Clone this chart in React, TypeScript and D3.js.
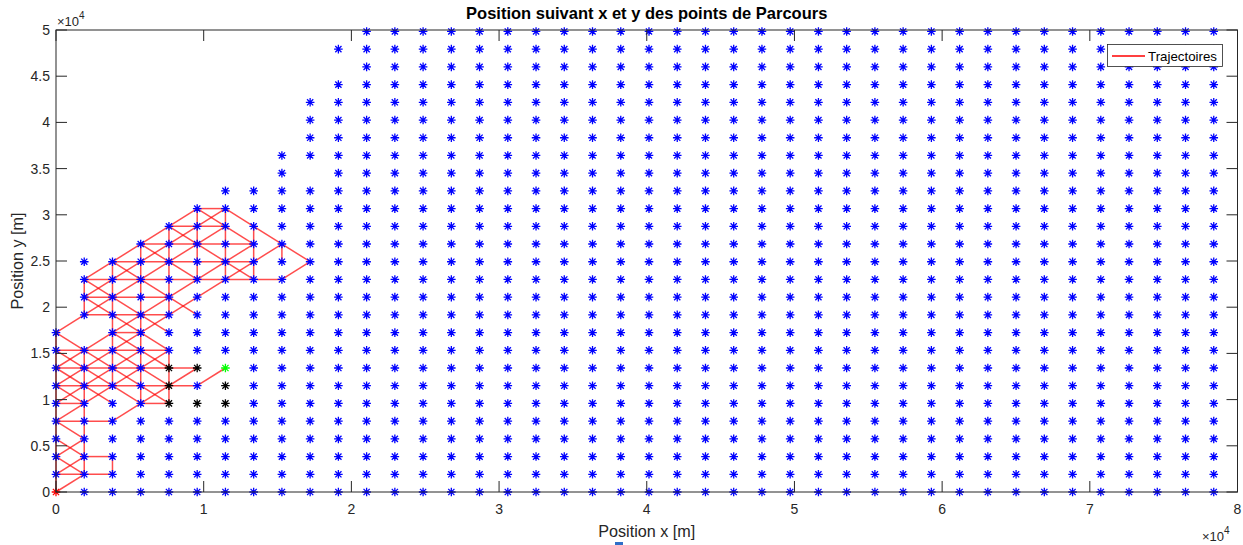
import React from "react";
import * as d3 from "d3";

// Grid positions (m)
const COL_X = [0, 1912, 3824, 5736, 7648, 9560, 11472, 13384, 15296, 17208, 19120, 21032, 22944, 24856, 26768, 28680, 30592, 32504, 34416, 36328, 38240, 40152, 42064, 43976, 45888, 47800, 49712, 51624, 53536, 55448, 57360, 59272, 61184, 63096, 65008, 66920, 68832, 70744, 72656, 74568, 76480, 78392];
const ROW_Y = [0, 1917, 3834, 5751, 7668, 9585, 11502, 13419, 15336, 17253, 19170, 21087, 23004, 24921, 26838, 28755, 30672, 32589, 34506, 36423, 38340, 40257, 42174, 44091, 46008, 47925, 49842];
// Highest row index present in each column
const COL_TOP = [9, 13, 13, 14, 15, 16, 17, 17, 19, 22, 25, 26, 26, 26, 26, 26, 26, 26, 26, 26, 26, 26, 26, 26, 26, 26, 26, 26, 26, 26, 26, 26, 26, 26, 26, 26, 26, 26, 26, 26, 26, 26];
const MISSING: [number, number][] = [[1, 9], [9, 18], [10, 24]];
const BLACK_PTS: [number, number][] = [[4, 7], [5, 7], [4, 6], [4, 5], [5, 5], [6, 6], [6, 5]];
const GREEN_PTS: [number, number][] = [[6, 7]];
const RED_PTS: [number, number][] = [[0, 0]];

// Trajectory segments (column index, row index)
const TRAJ: [number, number][][] = [
  [[0, 0], [0, 9]], [[0, 0], [1, 1]], [[0, 1], [2, 1]], [[1, 2], [2, 2]], [[2, 1], [2, 2]],
  [[1, 1], [1, 8]], [[0, 1], [1, 2]], [[0, 2], [1, 1]], [[0, 2], [1, 3]], [[0, 3], [1, 2]],
  [[0, 4], [1, 3]], [[0, 4], [2, 4]], [[2, 4], [3, 5]], [[0, 5], [1, 5]], [[3, 5], [4, 5]],
  [[0, 6], [5, 6]], [[0, 7], [5, 7]], [[0, 8], [4, 8]], [[2, 6], [2, 13]], [[3, 5], [3, 14]],
  [[4, 5], [4, 8]], [[0, 4], [4, 8]], [[0, 5], [3, 8]], [[0, 6], [2, 8]], [[0, 7], [1, 8]],
  [[3, 5], [5, 7]], [[0, 8], [3, 5]], [[0, 7], [2, 5]], [[0, 6], [1, 5]], [[1, 8], [4, 5]],
  [[2, 8], [4, 6]], [[3, 8], [4, 7]], [[5, 6], [6, 7]], [[0, 9], [1, 10]], [[0, 9], [1, 8]],
  [[1, 8], [2, 9]], [[2, 8], [3, 9]], [[2, 9], [3, 8]], [[3, 9], [4, 8]], [[2, 9], [3, 9]],
  [[1, 11], [3, 9]], [[1, 12], [4, 9]], [[2, 9], [7, 14]], [[3, 9], [8, 14]], [[1, 10], [4, 10]],
  [[1, 11], [4, 11]], [[1, 12], [8, 12]], [[2, 13], [7, 13]], [[3, 14], [7, 14]], [[4, 15], [6, 15]],
  [[5, 16], [6, 16]], [[1, 10], [1, 12]], [[4, 10], [4, 15]], [[5, 12], [5, 16]], [[6, 12], [6, 16]],
  [[7, 12], [7, 15]], [[8, 13], [8, 14]], [[1, 12], [5, 16]], [[1, 11], [6, 16]], [[1, 10], [6, 15]],
  [[8, 12], [9, 13]], [[6, 16], [9, 13]], [[5, 16], [7, 14]], [[4, 15], [7, 12]], [[3, 14], [5, 12]],
  [[2, 13], [5, 10]],
];

const X_TICKS = [0, 10000, 20000, 30000, 40000, 50000, 60000, 70000, 80000];
const Y_TICKS = [0, 5000, 10000, 15000, 20000, 25000, 30000, 35000, 40000, 45000, 50000];

const W = 1243, H = 545;
const L = 56, R = 1237.5, T = 30, B = 492;
const AX = "#262626";
const FONT = "'Liberation Sans', Arial, Helvetica, sans-serif";
const STAR = "M-4.3,0H4.3M0,-4.3V4.3M-3.1,-3.1L3.1,3.1M-3.1,3.1L3.1,-3.1";

export default function App() {
  const x = d3.scaleLinear().domain([0, 80000]).range([L, R]);
  const y = d3.scaleLinear().domain([0, 50000]).range([B, T]);
  const key = (c: number, r: number) => c + "_" + r;
  const special = new Set<string>();
  [...MISSING, ...BLACK_PTS, ...GREEN_PTS, ...RED_PTS].forEach(([c, r]) => special.add(key(c, r)));
  const blue: [number, number][] = [];
  COL_X.forEach((_, c) => {
    for (let r = 0; r <= COL_TOP[c]; r++) if (!special.has(key(c, r))) blue.push([c, r]);
  });
  const px = (c: number) => x(COL_X[c]);
  const py = (r: number) => y(ROW_Y[r]);
  const line = d3.line<[number, number]>().x((d) => px(d[0])).y((d) => py(d[1]));
  const fmt = (v: number) => String(v / 10000);
  const tk = 11;

  const stars = (pts: [number, number][], color: string) =>
    pts.map(([c, r], i) => (
      <path key={color + i} d={STAR} transform={`translate(${px(c)},${py(r)})`} stroke={color} strokeWidth={1.3} fill="none" />
    ));

  return (
    <svg width={W} height={H} style={{ position: "absolute", left: 0, top: 0, background: "#fff" }} fontFamily={FONT}>
      <rect x={0} y={0} width={W} height={H} fill="#fff" />
      {/* trajectories */}
      <g fill="none" stroke="#ff0000" strokeWidth={1.5} strokeOpacity={0.7}>
        {TRAJ.map((seg, i) => (
          <path key={i} d={line(seg) || ""} />
        ))}
      </g>
      {stars(blue, "#0000ff")}
      {stars(BLACK_PTS, "#000000")}
      {stars(GREEN_PTS, "#00ff00")}
      {stars(RED_PTS, "#ff0000")}
      {/* axes box */}
      <rect x={L} y={T} width={R - L} height={B - T} fill="none" stroke={AX} strokeWidth={1} />
      {X_TICKS.map((v) => (
        <g key={"x" + v}>
          <line x1={x(v)} x2={x(v)} y1={B} y2={B - tk} stroke={AX} />
          <line x1={x(v)} x2={x(v)} y1={T} y2={T + tk} stroke={AX} />
          <text x={x(v)} y={513.5} textAnchor="middle" fontSize={14} fill={AX}>{fmt(v)}</text>
        </g>
      ))}
      {Y_TICKS.map((v) => (
        <g key={"y" + v}>
          <line x1={L} x2={L + tk} y1={y(v)} y2={y(v)} stroke={AX} />
          <line x1={R} x2={R - tk} y1={y(v)} y2={y(v)} stroke={AX} />
          <text x={50} y={y(v) + 5} textAnchor="end" fontSize={14} fill={AX}>{fmt(v)}</text>
        </g>
      ))}
      {/* exponents */}
      <text x={57} y={26} fontSize={13} fill={AX}>×10<tspan dy={-7} fontSize={10}>4</tspan></text>
      <text x={1202} y={541} fontSize={13} fill={AX}>×10<tspan dy={-7} fontSize={10}>4</tspan></text>
      {/* labels */}
      <text x={(L + R) / 2} y={19} textAnchor="middle" fontSize={16.5} fontWeight="bold" fill="#000">
        Position suivant x et y des points de Parcours
      </text>
      <text x={(L + R) / 2} y={537} textAnchor="middle" fontSize={16.2} fill={AX}>Position x [m]</text>
      <text transform={`translate(23,${(T + B) / 2}) rotate(-90)`} textAnchor="middle" fontSize={16.2} fill={AX}>Position y [m]</text>
      {/* legend */}
      <rect x={1107.5} y={44.5} width={115} height={22} fill="#fff" stroke={AX} strokeWidth={0.8} />
      <line x1={1112} x2={1145} y1={56} y2={56} stroke="#ff0000" strokeWidth={1.3} />
      <text x={1148} y={60.5} fontSize={13.3} fill="#000">Trajectoires</text>
      <rect x={615} y={542} width={8} height={3} fill="#2f6fc8" />
    </svg>
  );
}
